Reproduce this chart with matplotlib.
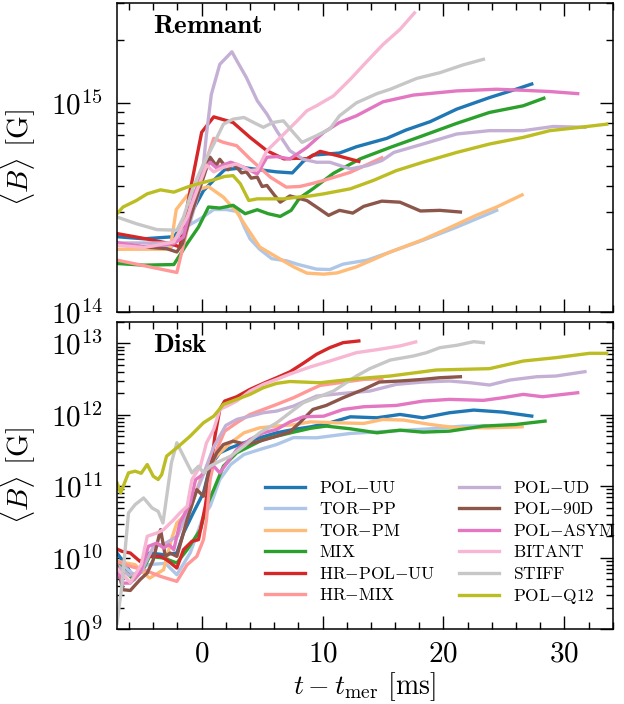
import numpy as np
import matplotlib
matplotlib.use("Agg")
import matplotlib.pyplot as plt
from matplotlib import ticker

plt.rcParams['font.family'] = 'serif'
plt.rcParams['font.serif'] = ['cmr10', 'DejaVu Serif']
plt.rcParams['mathtext.fontset'] = 'cm'
plt.rcParams['axes.unicode_minus'] = False
plt.rcParams['axes.formatter.use_mathtext'] = True

labels = ['POL-UU', 'TOR-PP', 'TOR-PM', 'MIX', 'HR-POL-UU', 'HR-MIX',
          'POL-UD', 'POL-90D', 'POL-ASYM', 'BITANT', 'STIFF', 'POL-Q12']
colors = ['#1f77b4', '#aec7e8', '#ffbb78', '#2ca02c', '#d62728', '#ff9896',
          '#c5b0d5', '#8c564b', '#e377c2', '#f7b6d2', '#c7c7c7', '#bcbd22']

# ---- Remnant: t - t_mer [ms], log10 <B> [G]
rem_t_pol_uu = [-7.0, -4.8, -2.3, -1.6, -0.7, 0.15, 1.0, 1.9, 3.5, 4.8, 6.2, 7.5, 8.4, 9.2, 11.4, 12.8, 15.3, 16.9, 18.9, 21.1, 23.8, 26.0, 27.3]
rem_b_pol_uu = [14.36, 14.35, 14.36, 14.41, 14.49, 14.58, 14.63, 14.68, 14.69, 14.68, 14.67, 14.665, 14.72, 14.75, 14.76, 14.79, 14.83, 14.87, 14.91, 14.97, 15.025, 15.065, 15.09]
rem_t_tor_pp = [-7.0, -4.5, -2.5, -1.5, 0.0, 1.0, 2.0, 3.0, 3.5, 4.0, 4.8, 5.8, 7.0, 8.0, 9.5, 10.6, 11.7, 13.7, 15.6, 18.3, 21.1, 24.4]
rem_b_tor_pp = [14.32, 14.31, 14.31, 14.40, 14.45, 14.49, 14.49, 14.48, 14.41, 14.35, 14.30, 14.255, 14.245, 14.227, 14.205, 14.203, 14.229, 14.248, 14.287, 14.343, 14.406, 14.486]
rem_t_tor_pm = [-7.0, -4.5, -2.6, -2.1, -1.2, -0.5, 0.55, 1.8, 2.9, 3.7, 4.8, 6.2, 7.6, 8.7, 10.1, 11.2, 12.8, 14.2, 15.6, 18.3, 20.5, 22.7, 24.4, 26.5]
rem_b_tor_pm = [14.30, 14.30, 14.30, 14.49, 14.557, 14.58, 14.60, 14.549, 14.478, 14.406, 14.311, 14.263, 14.216, 14.186, 14.181, 14.187, 14.216, 14.251, 14.287, 14.346, 14.403, 14.462, 14.502, 14.56]
rem_t_mix = [-7.0, -4.8, -2.3, -1.2, -0.26, 0.57, 1.5, 2.6, 3.6, 4.6, 5.5, 6.5, 7.4, 8.1, 9.2, 10.9, 13.1, 15.6, 18.3, 21.1, 23.8, 26.6, 28.3]
rem_b_mix = [14.232, 14.224, 14.227, 14.327, 14.406, 14.502, 14.497, 14.51, 14.47, 14.489, 14.47, 14.457, 14.486, 14.545, 14.589, 14.663, 14.732, 14.787, 14.843, 14.902, 14.954, 14.986, 15.022]
rem_t_hr_pol_uu = [-7.0, -4.8, -2.6, -1.8, -0.95, 0.0, 1.0, 2.6, 4.0, 5.4, 6.8, 7.9, 8.7, 9.8, 11.2, 13.0]
rem_b_hr_pol_uu = [14.375, 14.352, 14.327, 14.311, 14.581, 14.859, 14.933, 14.906, 14.835, 14.771, 14.732, 14.735, 14.732, 14.768, 14.748, 14.72]
rem_t_hr_mix = [-7.0, -2.05, -0.95, 0.0, 1.0, 1.8, 2.9, 4.0, 5.7, 7.0, 8.1, 9.0, 10.1, 12.3, 14.9]
rem_b_hr_mix = [14.248, 14.189, 14.454, 14.66, 14.83, 14.811, 14.795, 14.732, 14.644, 14.597, 14.6, 14.612, 14.629, 14.668, 14.737]
rem_t_pol_ud = [-7.0, -2.5, -1.0, 0.0, 0.4, 0.8, 1.5, 2.5, 3.0, 3.7, 4.6, 5.4, 6.2, 7.3, 8.4, 9.5, 10.6, 12.3, 13.7, 14.9, 15.9, 18.3, 21.1, 23.8, 26.6, 29.1, 31.7]
rem_b_pol_ud = [14.33, 14.33, 14.42, 14.62, 14.85, 15.04, 15.184, 15.244, 15.192, 15.121, 15.01, 14.946, 14.867, 14.771, 14.73, 14.716, 14.716, 14.684, 14.70, 14.724, 14.763, 14.803, 14.851, 14.867, 14.867, 14.887, 14.883]
rem_t_pol_90d = [-7.0, -4.8, -2.9, -2.05, -1.6, -1.1, -0.4, 0.15, 0.7, 1.2, 1.5, 1.8, 2.2, 2.5, 2.9, 3.3, 3.7, 4.1, 4.6, 5.0, 5.4, 6.0, 6.5, 7.3, 8.7, 9.7, 10.5, 11.4, 12.5, 13.4, 14.9, 16.4, 18.1, 19.7, 21.4]
rem_b_pol_90d = [14.327, 14.311, 14.303, 14.287, 14.327, 14.422, 14.549, 14.644, 14.74, 14.70, 14.73, 14.708, 14.68, 14.71, 14.692, 14.665, 14.67, 14.64, 14.645, 14.60, 14.605, 14.56, 14.525, 14.555, 14.533, 14.494, 14.462, 14.486, 14.473, 14.505, 14.53, 14.525, 14.483, 14.486, 14.478]
rem_t_pol_asym = [-7.0, -4.8, -2.3, -1.5, -0.7, 0.15, 0.7, 1.2, 2.4, 3.5, 4.6, 5.4, 6.2, 7.3, 8.1, 8.7, 10.1, 11.4, 12.8, 15.0, 17.5, 21.1, 24.4, 26.6, 28.8, 31.1]
rem_b_pol_asym = [14.332, 14.311, 14.327, 14.359, 14.549, 14.676, 14.716, 14.69, 14.716, 14.692, 14.66, 14.74, 14.743, 14.732, 14.763, 14.787, 14.859, 14.906, 14.938, 15.005, 15.037, 15.057, 15.065, 15.06, 15.054, 15.044]
rem_t_bitant = [-7.0, -4.8, -2.3, -1.2, 0.4, 1.0, 1.8, 2.9, 4.0, 4.6, 5.4, 6.8, 7.9, 8.7, 9.5, 10.9, 12.3, 13.7, 15.0, 16.4, 17.6]
rem_b_bitant = [14.319, 14.308, 14.335, 14.454, 14.702, 14.67, 14.692, 14.708, 14.676, 14.68, 14.771, 14.851, 14.914, 14.962, 14.986, 15.033, 15.113, 15.2, 15.279, 15.351, 15.43]
rem_t_stiff = [-7.0, -5.4, -3.7, -2.05, -1.5, -0.7, 0.15, 1.0, 1.8, 2.6, 3.5, 4.3, 5.1, 5.9, 6.76, 7.45, 8.3, 9.5, 10.6, 11.4, 12.8, 14.5, 15.6, 17.8, 19.7, 21.6, 23.3]
rem_b_stiff = [14.454, 14.422, 14.394, 14.391, 14.454, 14.597, 14.708, 14.803, 14.898, 14.922, 14.93, 14.906, 14.883, 14.906, 14.914, 14.867, 14.811, 14.843, 14.875, 14.938, 15.0, 15.044, 15.065, 15.117, 15.144, 15.181, 15.208]
rem_t_pol_q12 = [-7.0, -6.5, -5.4, -4.5, -3.4, -2.3, -1.2, -0.1, 1.0, 1.9, 2.6, 3.2, 3.9, 4.6, 5.7, 6.8, 7.9, 9.0, 10.1, 12.3, 14.2, 16.1, 18.3, 21.1, 23.8, 26.6, 28.8, 31.3, 33.5]
rem_b_pol_q12 = [14.47, 14.502, 14.533, 14.565, 14.584, 14.573, 14.597, 14.616, 14.632, 14.648, 14.652, 14.613, 14.533, 14.541, 14.541, 14.541, 14.549, 14.555, 14.565, 14.589, 14.629, 14.676, 14.716, 14.763, 14.803, 14.835, 14.867, 14.883, 14.898]

# ---- Disk
dsk_t_pol_uu = [-7.0, -6.2, -5.6, -4.8, -4.3, -3.15, -2.05, -1.5, -0.7, 0.15, 0.7, 1.5, 2.4, 3.5, 4.8, 6.2, 7.6, 9.0, 10.6, 12.3, 14.5, 16.4, 18.3, 20.5, 22.5, 24.9, 27.3]
dsk_b_pol_uu = [10.064, 9.877, 9.713, 9.924, 10.064, 10.041, 10.064, 10.345, 10.625, 10.906, 11.28, 11.467, 11.537, 11.607, 11.677, 11.747, 11.794, 11.83, 11.887, 11.971, 11.957, 12.004, 11.957, 12.028, 12.065, 12.037, 11.981]
dsk_t_tor_pp = [-7.0, -5.5, -4.5, -3.0, -2.05, -0.95, 0.15, 0.7, 1.5, 2.4, 3.5, 4.8, 6.2, 7.6, 9.5, 12.3, 15.6, 18.9, 21.6, 23.5]
dsk_b_tor_pp = [9.95, 9.75, 9.90, 9.92, 9.76, 10.064, 10.578, 10.719, 11.093, 11.303, 11.443, 11.513, 11.583, 11.68, 11.677, 11.738, 11.77, 11.803, 11.841, 11.845]
dsk_t_tor_pm = [-7.0, -5.5, -4.8, -4.3, -3.15, -2.5, -2.05, -0.95, -0.1, 0.7, 1.5, 2.4, 3.5, 4.8, 6.2, 7.6, 9.0, 11.2, 13.4, 15.0, 16.7, 18.9, 21.1, 23.8, 26.5]
dsk_b_tor_pm = [9.95, 9.90, 9.784, 9.713, 9.83, 10.251, 10.485, 10.672, 11.093, 11.326, 11.467, 11.607, 11.747, 11.817, 11.841, 11.86, 11.90, 11.887, 11.878, 11.934, 11.925, 11.864, 11.817, 11.817, 11.831]
dsk_t_mix = [-7.0, -6.2, -5.6, -4.8, -4.3, -3.15, -2.05, -1.2, -0.1, 0.4, 1.0, 1.8, 2.9, 4.0, 5.1, 6.2, 7.6, 9.0, 10.3, 12.3, 14.5, 16.4, 18.3, 20.5, 23.3, 26.0, 28.4]
dsk_b_mix = [9.924, 9.784, 9.69, 9.85, 10.017, 9.994, 9.924, 10.111, 10.391, 10.719, 10.952, 11.28, 11.467, 11.56, 11.654, 11.7, 11.756, 11.81, 11.841, 11.803, 11.747, 11.784, 11.756, 11.77, 11.841, 11.864, 11.911]
dsk_t_hr_pol_uu = [-7.0, -6.6, -5.9, -5.1, -4.5, -3.4, -2.9, -2.05, -1.5, -0.8, -0.26, 0.3, 0.7, 1.1, 1.5, 1.9, 2.9, 4.0, 5.1, 6.2, 7.3, 8.4, 9.5, 10.6, 11.7, 13.0]
dsk_b_hr_pol_uu = [10.12, 10.088, 10.064, 9.947, 10.017, 10.017, 9.97, 9.854, 10.111, 10.228, 10.251, 10.719, 11.186, 11.7, 12.074, 12.191, 12.252, 12.355, 12.439, 12.518, 12.6, 12.72, 12.846, 12.939, 13.009, 13.033]
dsk_t_hr_mix = [-7.0, -5.9, -4.8, -3.4, -2.05, -1.2, -0.4, 0.15, 0.4, 0.7, 1.25, 1.9, 2.9, 4.0, 5.1, 6.2, 7.6, 9.0, 9.8, 11.4, 13.4, 14.9]
dsk_b_hr_mix = [9.947, 9.877, 9.83, 9.737, 9.667, 9.9, 10.017, 10.251, 10.532, 11.093, 11.513, 11.77, 11.887, 12.004, 12.074, 12.144, 12.238, 12.35, 12.411, 12.448, 12.495, 12.504]
dsk_t_pol_ud = [-7.0, -6.0, -5.0, -4.0, -3.0, -2.0, -1.0, 0.0, 1.0, 2.0, 2.9, 4.0, 5.1, 6.2, 7.6, 9.5, 11.7, 13.9, 16.1, 18.3, 20.5, 22.2, 23.8, 25.5, 27.7, 29.3, 31.7]
dsk_b_pol_ud = [9.9, 9.75, 9.8, 10.15, 10.2, 10.3, 10.7, 11.1, 11.55, 11.85, 11.934, 11.98, 12.028, 12.051, 12.121, 12.261, 12.299, 12.331, 12.425, 12.458, 12.472, 12.448, 12.416, 12.486, 12.532, 12.542, 12.603]
dsk_t_pol_90d = [-7.0, -6.5, -5.9, -5.1, -4.5, -4.0, -3.4, -3.0, -2.6, -2.05, -1.2, -0.4, 0.15, 0.7, 1.25, 1.8, 2.6, 3.7, 4.8, 6.2, 7.3, 8.1, 9.2, 10.3, 11.7, 13.4, 14.7, 16.4, 18.3, 19.7, 21.4]
dsk_b_pol_90d = [9.877, 9.55, 9.54, 9.69, 9.784, 9.97, 10.391, 10.017, 10.064, 10.017, 10.532, 10.952, 10.859, 11.28, 11.467, 11.583, 11.63, 11.583, 11.63, 11.7, 11.76, 11.887, 12.074, 12.13, 12.238, 12.355, 12.458, 12.472, 12.495, 12.518, 12.532]
dsk_t_pol_asym = [-7.0, -6.5, -5.9, -5.1, -4.4, -3.7, -3.15, -2.7, -2.3, -1.8, -0.95, -0.5, -0.1, 0.4, 1.0, 1.5, 2.9, 4.0, 5.1, 6.2, 7.3, 8.4, 10.1, 11.7, 13.4, 16.1, 18.3, 20.5, 23.3, 24.9, 26.6, 28.2, 31.1]
dsk_b_pol_asym = [9.83, 9.643, 9.643, 9.784, 10.158, 10.204, 10.134, 10.181, 10.111, 10.485, 10.765, 11.093, 11.139, 11.233, 11.28, 11.186, 11.513, 11.654, 11.747, 11.794, 11.9, 11.971, 11.98, 12.074, 12.112, 12.13, 12.191, 12.215, 12.201, 12.238, 12.285, 12.252, 12.308]
dsk_t_bitant = [-7.0, -5.9, -5.0, -4.5, -3.7, -3.15, -2.3, -1.8, -1.2, -0.8, -0.1, 0.4, 1.0, 1.5, 2.1, 2.9, 4.0, 5.1, 6.2, 7.3, 9.0, 10.6, 12.8, 14.7, 16.4, 17.7]
dsk_b_bitant = [9.85, 9.65, 9.9, 10.298, 10.345, 10.391, 10.532, 10.625, 10.719, 11.093, 11.28, 11.607, 11.794, 12.074, 12.121, 12.191, 12.331, 12.425, 12.495, 12.57, 12.67, 12.752, 12.869, 12.916, 12.963, 13.019]
dsk_t_stiff = [-7.0, -6.6, -6.05, -5.5, -4.8, -4.1, -3.6, -3.2, -2.5, -2.05, -1.5, -0.8, -0.26, 0.15, 0.7, 1.5, 2.4, 3.5, 4.8, 6.2, 7.3, 8.4, 9.5, 10.9, 12.8, 13.9, 15.6, 17.5, 18.6, 19.7, 21.1, 22.5, 23.3]
dsk_b_stiff = [9.082, 9.6, 10.625, 10.742, 10.835, 10.695, 10.648, 10.485, 11.326, 11.607, 11.42, 11.186, 11.28, 11.186, 11.28, 11.35, 11.42, 11.56, 11.747, 11.887, 12.028, 12.168, 12.238, 12.331, 12.542, 12.645, 12.766, 12.822, 12.869, 12.939, 12.972, 13.023, 13.009]
dsk_t_pol_q12 = [-7.0, -6.7, -6.05, -5.5, -5.0, -4.5, -4.0, -3.6, -3.3, -2.9, -2.05, -0.95, 0.15, 1.0, 1.8, 2.9, 4.0, 5.1, 6.2, 7.3, 9.8, 12.8, 15.6, 19.4, 23.8, 26.6, 29.3, 32.1, 33.5]
dsk_b_pol_q12 = [11.046, 10.906, 11.186, 11.21, 11.18, 11.303, 11.139, 11.093, 11.163, 11.42, 11.537, 11.7, 11.887, 11.98, 12.144, 12.215, 12.285, 12.378, 12.439, 12.465, 12.448, 12.504, 12.542, 12.626, 12.645, 12.752, 12.799, 12.86, 12.86]

rem_series = [(rem_t_pol_uu, rem_b_pol_uu), (rem_t_tor_pp, rem_b_tor_pp), (rem_t_tor_pm, rem_b_tor_pm),
              (rem_t_mix, rem_b_mix), (rem_t_hr_pol_uu, rem_b_hr_pol_uu), (rem_t_hr_mix, rem_b_hr_mix),
              (rem_t_pol_ud, rem_b_pol_ud), (rem_t_pol_90d, rem_b_pol_90d), (rem_t_pol_asym, rem_b_pol_asym),
              (rem_t_bitant, rem_b_bitant), (rem_t_stiff, rem_b_stiff), (rem_t_pol_q12, rem_b_pol_q12)]
dsk_series = [(dsk_t_pol_uu, dsk_b_pol_uu), (dsk_t_tor_pp, dsk_b_tor_pp), (dsk_t_tor_pm, dsk_b_tor_pm),
              (dsk_t_mix, dsk_b_mix), (dsk_t_hr_pol_uu, dsk_b_hr_pol_uu), (dsk_t_hr_mix, dsk_b_hr_mix),
              (dsk_t_pol_ud, dsk_b_pol_ud), (dsk_t_pol_90d, dsk_b_pol_90d), (dsk_t_pol_asym, dsk_b_pol_asym),
              (dsk_t_bitant, dsk_b_bitant), (dsk_t_stiff, dsk_b_stiff), (dsk_t_pol_q12, dsk_b_pol_q12)]


def pow_fmt(v, pos):
    e = int(round(np.log10(v)))
    if abs(v - 10.0**e) > 1e-6 * v:
        return ''
    return r'$10^{%d}$' % e


def leg_label(s):
    # minus as an ordinary symbol, like the reference labels
    return '$' + '{-}'.join(r'\mathrm{%s}' % p for p in s.split('-')) + '$'


fig = plt.figure(figsize=(6.24, 7.04), dpi=100)
ax1 = fig.add_axes([0.1875, 0.5568, 0.7945, 0.4389])
ax2 = fig.add_axes([0.1875, 0.1065, 0.7945, 0.4364])

for ax, series in [(ax1, rem_series), (ax2, dsk_series)]:
    for (t, b), lab, c in zip(series, labels, colors):
        ax.plot(t, 10**np.array(b), color=c, lw=2.4, label=leg_label(lab))
    ax.set_yscale('log')
    ax.set_xlim(-7, 34)
    ax.xaxis.set_major_locator(ticker.MultipleLocator(10))
    ax.xaxis.set_minor_locator(ticker.MultipleLocator(2))
    ax.yaxis.set_major_formatter(ticker.FuncFormatter(pow_fmt))
    ax.yaxis.set_minor_formatter(ticker.NullFormatter())
    ax.tick_params(which='both', direction='in', top=True, right=True, labelsize=21, width=1)
    ax.tick_params(which='major', length=9.5)
    ax.tick_params(which='minor', length=5)
    ax.tick_params(axis='y', which='major', pad=10)
    ax.tick_params(axis='x', which='major', pad=9)
    ax.set_ylabel(r'$\langle B\rangle$ [G]', fontsize=21)
    for s in ax.spines.values():
        s.set_linewidth(1.1)

ax1.set_ylim(1e14, 3e15)
ax2.set_ylim(1e9, 2e13)
ax1.tick_params(labelbottom=False)
ax2.set_xlabel(r'$t-t_{\rm mer}$ [ms]', fontsize=20, labelpad=2)
ax1.yaxis.set_label_coords(-0.16, 0.5)
ax2.yaxis.set_label_coords(-0.16, 0.5)

ax1.text(0.073, 0.925, r'$\mathbf{Remnant}$', transform=ax1.transAxes, fontsize=19.5, va='center')
ax2.text(0.073, 0.925, r'$\mathbf{Disk}$', transform=ax2.transAxes, fontsize=19.5, va='center')

ax2.legend(ncol=2, loc='upper left', bbox_to_anchor=(0.284, 0.509), frameon=False, fontsize=12.5,
           handlelength=2.3, handletextpad=0.8, columnspacing=1.4, labelspacing=0.32,
           borderaxespad=0.0)

fig.savefig('out.png', dpi=100)
